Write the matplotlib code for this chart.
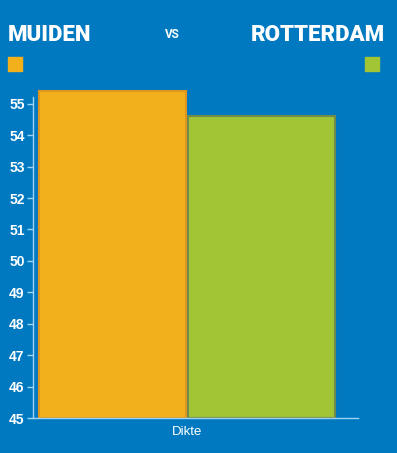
import matplotlib.pyplot as plt
from matplotlib.patches import Rectangle

# data
categories = ["Dikte"]
teams = ["MUIDEN", "ROTTERDAM"]
values = [55.4, 54.6]
colors = ["#f2b11b", "#a1c535"]
edges = ["#e0951c", "#6f8a4a"]

bg = "#0079c1"
W, H = 397, 453

fig = plt.figure(figsize=(W / 100, H / 100), dpi=100, facecolor=bg)
ax = fig.add_axes([33 / W, (H - 418) / H, (358 - 33) / W, (418 - 88) / H])
ax.set_facecolor(bg)

width = 0.455
offsets = [-width / 2 - 0.003, width / 2 + 0.003]
for i, (v, c, e) in enumerate(zip(values, colors, edges)):
    ax.bar(offsets[i], v - 45, width=width, bottom=45, color=c,
           edgecolor=e, linewidth=1.5, zorder=2)

ax.set_xlim(-0.475, 0.528)
ax.set_ylim(45, 55.5)
ax.set_yticks(range(45, 56))
ax.set_xticks([0])
ax.set_xticklabels(categories)

for s in ["top", "right"]:
    ax.spines[s].set_visible(False)
for s in ["left", "bottom"]:
    ax.spines[s].set_color("#9fd3f5")
    ax.spines[s].set_linewidth(1)
ax.spines["left"].set_bounds(45, 55.2)
ax.tick_params(axis="y", colors="#9fd3f5", length=4, width=1, pad=2)
ax.tick_params(axis="x", length=0, pad=6)
for lbl in ax.get_yticklabels():
    lbl.set_color("white")
    lbl.set_fontweight("bold")
    lbl.set_fontsize(10)
    lbl.set_family("Liberation Sans")
for lbl in ax.get_xticklabels():
    lbl.set_color("white")
    lbl.set_fontsize(9.5)
    lbl.set_family("Liberation Sans")

# header
fig.text(8 / W, 1 - 35 / H, teams[0], color="white", fontsize=16, fontweight=900,
         family="Roboto", va="center", ha="left")
fig.text(172 / W, 1 - 34 / H, "VS", color="white", fontsize=8.5, fontweight="bold",
         family="Roboto", va="center", ha="center")
fig.text(385 / W, 1 - 35 / H, teams[1], color="white", fontsize=16, fontweight=900,
         family="Roboto", va="center", ha="right")
fig.patches.append(Rectangle((8 / W, 1 - 71 / H), 14 / W, 14 / H, color=colors[0],
                             transform=fig.transFigure, figure=fig))
fig.patches.append(Rectangle((365 / W, 1 - 71 / H), 14 / W, 14 / H, color=colors[1],
                             transform=fig.transFigure, figure=fig))

fig.savefig("out.png", dpi=100, facecolor=bg)
